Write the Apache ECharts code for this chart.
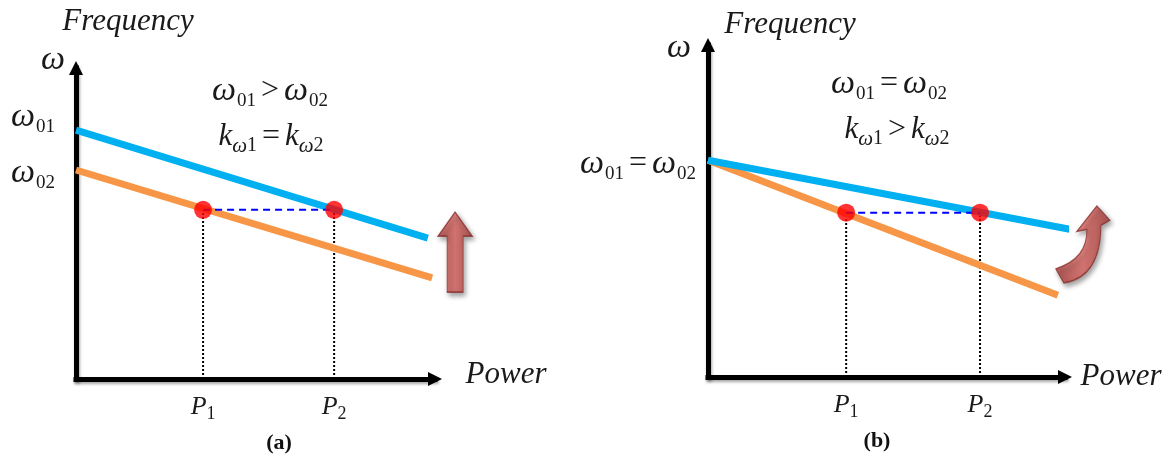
<!DOCTYPE html>
<html><head><meta charset="utf-8">
<script src="https://cdn.jsdelivr.net/npm/echarts@6/dist/echarts.min.js"></script>
<style>html,body{margin:0;padding:0;background:#fff}#c{width:1175px;height:465px}</style>
</head><body><div id="c"></div>
<script>
// ---------- data (axis units 0..10) ----------
// Panel (a): omega01 > omega02, equal droop slopes
const aPowers = [3.54, 7.19];            // P1, P2
const aOperatingW = 5.44;                // common frequency of the two operating points
const aBlue = [[0, 8.00], [9.80, 4.53]]; // droop line 1
const aOrange = [[0, 6.72], [9.92, 3.25]]; // droop line 2
const aArrow = [[10.56, 4.08]];          // "shift up" arrow
// Panel (b): omega01 = omega02, different droop slopes
const bPowers = [3.87, 7.62];
const bOperatingW = 4.95;
const bBlue = [[0, 6.53], [10.22, 4.43]];
const bOrange = [[0, 6.53], [9.80, 2.46]];
const bArrow = [[10.50, 3.99]];          // "rotate" arrow
const pLabels = ['1', '2'];              // subscripts of P tick labels

// ---------- styling ----------
const SERIF = '"Liberation Serif","Times New Roman",serif';
const TXT = '#1a1a1a';
const BLUE = '#00b0f0', ORANGE = '#f79646';
const richEq = {
  w:  {fontFamily: SERIF, fontStyle: 'italic', fontSize: 34, fill: TXT},
  d:  {fontFamily: SERIF, fontSize: 19, padding: [20, 0, 0, 1], fill: TXT},
  o:  {fontFamily: SERIF, fontSize: 32, padding: [0, 5, 0, 5], fill: TXT},
  k:  {fontFamily: SERIF, fontStyle: 'italic', fontSize: 31, fill: TXT},
  kw: {fontFamily: SERIF, fontStyle: 'italic', fontSize: 21, padding: [18, 0, 0, 0], fill: TXT},
  kd: {fontFamily: SERIF, fontSize: 20, padding: [18, 0, 0, 0], fill: TXT}
};
const richP = {
  p: {fontFamily: SERIF, fontStyle: 'italic', fontSize: 26, color: TXT},
  s: {fontFamily: SERIF, fontSize: 18, padding: [13, 0, 0, 0], color: TXT}
};
const arrowRed = new echarts.graphic.LinearGradient(0, 0, 1, 0, [
  {offset: 0, color: '#a83c39'}, {offset: 0.5, color: '#dc6763'}, {offset: 1, color: '#a83c39'}
]);
const upArrowPath = 'path://M9 80 L9 24 L0 24 L17 0 L34 24 L25 24 L25 80 Z';
const curvedArrowPath = 'path://M0 62 Q32 52 31 23 L21 25 L41 0 L54 14 L45 19 Q45 70 8 76 Z';

function axisLine() {
  return {show: true, onZero: false, symbol: ['none', 'triangle'], symbolSize: [14, 14],
    lineStyle: {color: '#000', width: 5, cap: 'square', shadowBlur: 3, shadowColor: 'rgba(0,0,0,0.35)', shadowOffsetX: 1, shadowOffsetY: 2}};
}
function xAxis(gi, powers) {
  return {gridIndex: gi, type: 'value', min: 0, max: 10,
    axisLine: axisLine(), axisTick: {show: false}, splitLine: {show: false},
    axisLabel: {show: true, customValues: powers, margin: 13,
      formatter: (v) => '{p|P}{s|' + pLabels[powers.indexOf(v)] + '}', rich: richP}};
}
function yAxis(gi) {
  return {gridIndex: gi, type: 'value', min: 0, max: 10,
    axisLine: axisLine(), axisTick: {show: false}, splitLine: {show: false}, axisLabel: {show: false}};
}
function panelSeries(gi, powers, w, blue, orange, arrow, arrowPath, arrowSize) {
  const s = [];
  s.push({type: 'line', xAxisIndex: gi, yAxisIndex: gi, data: orange, symbol: 'none', clip: false, silent: true,
    lineStyle: {color: ORANGE, width: 7}, z: 3});
  s.push({type: 'line', xAxisIndex: gi, yAxisIndex: gi, data: blue, symbol: 'none', clip: false, silent: true,
    lineStyle: {color: BLUE, width: 7}, z: 3});
  powers.forEach(p => {
    s.push({type: 'line', xAxisIndex: gi, yAxisIndex: gi, data: [[p, 0], [p, w]], symbol: 'none', silent: true,
      lineStyle: {color: '#000', width: 2, type: [2, 2]}, z: 2});
  });
  s.push({type: 'line', xAxisIndex: gi, yAxisIndex: gi, data: powers.map(p => [p, w]), symbol: 'none', silent: true,
    lineStyle: {color: '#0000ff', width: 2, type: [7, 5]}, z: 4});
  s.push({type: 'scatter', xAxisIndex: gi, yAxisIndex: gi, data: powers.map(p => [p, w]), symbol: 'circle',
    symbolSize: 18, itemStyle: {color: '#ff0000'}, silent: true, z: 5});
  s.push({type: 'scatter', xAxisIndex: gi, yAxisIndex: gi, data: arrow, symbol: arrowPath, symbolSize: arrowSize,
    clip: false, silent: true, z: 5,
    itemStyle: {color: arrowRed, borderColor: '#8a2f2c', borderWidth: 1.2,
      shadowBlur: 5, shadowColor: 'rgba(0,0,0,0.45)', shadowOffsetX: 2, shadowOffsetY: 3}});
  return s;
}
function T(x, y, text, extra) {
  return {type: 'text', x, y, silent: true,
    style: Object.assign({text, rich: richEq, align: 'center', verticalAlign: 'middle', fill: TXT,
      fontFamily: SERIF, fontSize: 30}, extra || {})};
}
const italic = {fontStyle: 'italic', fontSize: 31};
const caption = {fontWeight: 'bold', fontSize: 22, fill: '#111'};

const chart = echarts.init(document.getElementById('c'), null, {renderer: 'canvas'});
chart.setOption({
  animation: false,
  backgroundColor: '#fff',
  grid: [
    {left: 76, top: 68, width: 359, height: 311},
    {left: 708, top: 45, width: 357, height: 332}
  ],
  xAxis: [xAxis(0, aPowers), xAxis(1, bPowers)],
  yAxis: [yAxis(0), yAxis(1)],
  series: [].concat(
    panelSeries(0, aPowers, aOperatingW, aBlue, aOrange, aArrow, upArrowPath, [34, 80]),
    panelSeries(1, bPowers, bOperatingW, bBlue, bOrange, bArrow, curvedArrowPath, [54, 77])
  ),
  graphic: [
    // panel (a)
    T(128, 22, 'Frequency', italic),
    T(53, 60, 'ω', {fontStyle: 'italic', fontSize: 34}),
    T(33, 117, '{w|ω}{d|01}'),
    T(33, 173, '{w|ω}{d|02}'),
    T(270, 91, '{w|ω}{d|01}{o|>}{w|ω}{d|02}'),
    T(271, 137, '{k|k}{kw|ω}{kd|1}{o|=}{k|k}{kw|ω}{kd|2}'),
    T(506, 375, 'Power', italic),
    T(279, 443, '(a)', caption),
    // panel (b)
    T(790, 25, 'Frequency', italic),
    T(679, 48, 'ω', {fontStyle: 'italic', fontSize: 34}),
    T(638, 164, '{w|ω}{d|01}{o|=}{w|ω}{d|02}'),
    T(889, 84, '{w|ω}{d|01}{o|=}{w|ω}{d|02}'),
    T(897, 130, '{k|k}{kw|ω}{kd|1}{o|>}{k|k}{kw|ω}{kd|2}'),
    T(1121, 377, 'Power', italic),
    T(877, 441, '(b)', caption)
  ]
});
</script></body></html>
